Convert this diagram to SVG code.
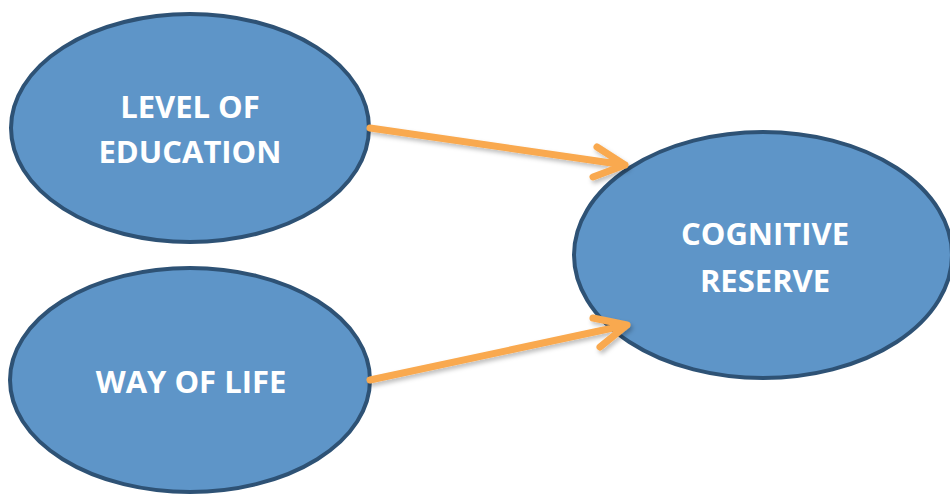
<svg xmlns="http://www.w3.org/2000/svg" width="950" height="494" viewBox="0 0 950 494">
<style>
.node ellipse{fill:#5E95C8;stroke:#2E5275;stroke-width:4}
.lbl{font-family:"Open Sans","Liberation Sans",sans-serif;font-weight:bold;font-size:31px;fill:#FFFFFF;text-anchor:middle}
.conn{stroke:#F9A94F;stroke-width:7;fill:none;stroke-linecap:round;stroke-linejoin:round}
</style>
<defs>
<filter id="sh" x="-10%" y="-30%" width="120%" height="160%">
<feDropShadow dx="2" dy="3" stdDeviation="2" flood-color="#000" flood-opacity="0.25"/>
</filter>
</defs>
<rect width="950" height="494" fill="#FFFFFF"/>
<g id="node-education" class="node">
<ellipse cx="190" cy="128" rx="179" ry="114"/>
<text class="lbl" x="190" y="118">LEVEL OF</text>
<text class="lbl" x="190" y="163">EDUCATION</text>
</g>
<g id="node-way-of-life" class="node">
<ellipse cx="190" cy="380" rx="180" ry="112"/>
<text class="lbl" x="191" y="393">WAY OF LIFE</text>
</g>
<g id="node-cognitive-reserve" class="node">
<ellipse cx="763" cy="255" rx="189" ry="123"/>
<text class="lbl" x="765" y="245">COGNITIVE</text>
<text class="lbl" x="765" y="292">RESERVE</text>
</g>
<g id="connectors" class="conn" filter="url(#sh)">
<path d="M370,128 L625,165 M597,147 L625,165 L593,177"/>
<path d="M370,380 L627,325 M593,318 L627,325 L600,347"/>
</g>
</svg>
